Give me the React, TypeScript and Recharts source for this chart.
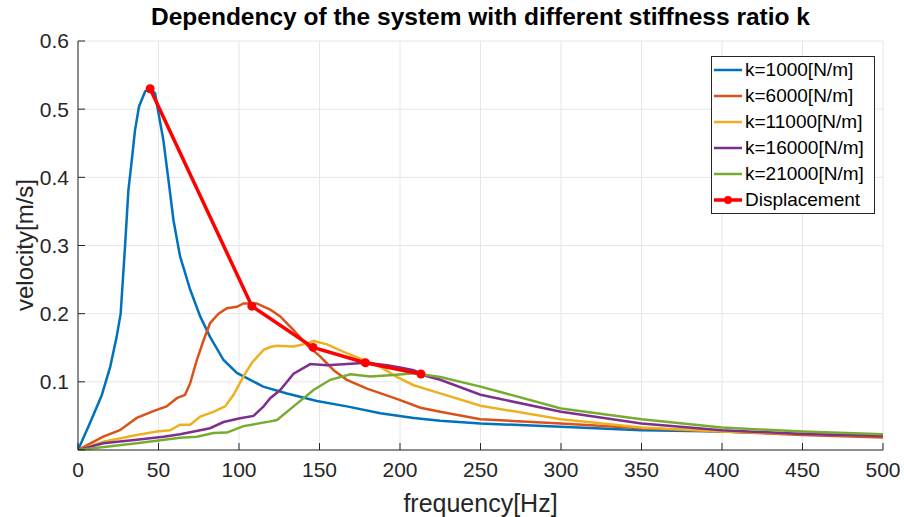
import { LineChart, Line, XAxis, YAxis, CartesianGrid } from "recharts"

// values (frequency in Hz, velocity in m/s)
const k1000 = [
  [0, 0], [7.5, 0.04], [14.7, 0.08], [20, 0.122], [24, 0.166], [26.5, 0.2], [29.2, 0.298],
  [31.3, 0.381], [33.4, 0.425], [35.4, 0.469], [37.9, 0.504], [41.7, 0.526], [44.8, 0.53],
  [47.9, 0.523], [50, 0.494], [53, 0.455], [56.2, 0.396], [59.3, 0.337], [63.4, 0.284],
  [69.7, 0.235], [75.9, 0.196], [82, 0.166], [90.4, 0.132], [98.7, 0.113], [107, 0.103],
  [115, 0.093], [129.8, 0.083], [148.4, 0.072], [167, 0.064], [187.8, 0.054], [208.5, 0.047],
  [225, 0.043], [250, 0.039], [300, 0.034], [350, 0.029], [400, 0.027], [450, 0.0235], [500, 0.0205],
]
const k6000 = [
  [0, 0], [15.7, 0.0195], [26, 0.029], [36.5, 0.047], [46.8, 0.057], [55, 0.064], [61.4, 0.076],
  [66.5, 0.081], [69.7, 0.098], [73.8, 0.132], [78, 0.161], [82, 0.186], [87.3, 0.2], [92.5, 0.208],
  [98.7, 0.21], [102.8, 0.215], [111, 0.215], [119.4, 0.206], [125.6, 0.196], [133.9, 0.176],
  [142.2, 0.154], [150.5, 0.137], [158.8, 0.117], [167, 0.103], [179.5, 0.09], [198, 0.075],
  [212.7, 0.062], [225, 0.056], [250, 0.045], [300, 0.039], [350, 0.032], [400, 0.027],
  [450, 0.022], [500, 0.0185],
]
const k11000 = [
  [0, 0], [15.7, 0.012], [36.5, 0.022], [49, 0.027], [57.2, 0.029], [63.4, 0.037], [69.7, 0.037],
  [75.9, 0.049], [84.1, 0.056], [91.4, 0.064], [96.6, 0.081], [102.8, 0.108], [108, 0.128],
  [115.3, 0.147], [119.4, 0.151], [123.6, 0.153], [133.9, 0.152], [142.2, 0.156], [146.3, 0.16],
  [154.7, 0.155], [165, 0.144], [175.4, 0.134], [187.8, 0.122], [198.2, 0.107], [208.5, 0.095],
  [225, 0.083], [250, 0.065], [300, 0.045], [350, 0.033], [400, 0.027], [450, 0.0235], [500, 0.0205],
]
const k16000 = [
  [0, 0], [15.7, 0.01], [36.5, 0.015], [53, 0.0195], [63.4, 0.023], [75.9, 0.029], [82, 0.032],
  [90.4, 0.041], [100.7, 0.0465], [109, 0.05], [115.3, 0.064], [119.4, 0.076], [125.6, 0.088],
  [133.9, 0.112], [144.3, 0.126], [154.7, 0.1245], [167, 0.126], [179.5, 0.128], [192, 0.1245],
  [200, 0.121], [208.5, 0.117], [216.8, 0.108], [225, 0.103], [250, 0.081], [300, 0.056],
  [350, 0.039], [400, 0.029], [450, 0.0235], [500, 0.0205],
]
const k21000 = [
  [0, 0], [36.5, 0.01], [63.4, 0.018], [73.8, 0.0195], [84.1, 0.025], [92.5, 0.0255], [102.8, 0.035],
  [119.4, 0.042], [123.6, 0.044], [133.9, 0.064], [146.3, 0.088], [156.7, 0.103], [169.2, 0.111],
  [181.6, 0.108], [196, 0.11], [208.5, 0.1125], [225, 0.107], [250, 0.093], [300, 0.061],
  [350, 0.045], [400, 0.033], [450, 0.027], [500, 0.023],
]
const displacement = [
  [44.8, 0.53], [108, 0.211], [146, 0.1505], [178.5, 0.128], [213, 0.1115],
]

const xTicks = [0, 50, 100, 150, 200, 250, 300, 350, 400, 450, 500]
const yTicks = [0, 0.1, 0.2, 0.3, 0.4, 0.5, 0.6]

const series = [
  { name: "k=1000[N/m]", color: "#0072BD", data: k1000 },
  { name: "k=6000[N/m]", color: "#D95319", data: k6000 },
  { name: "k=11000[N/m]", color: "#EDB120", data: k11000 },
  { name: "k=16000[N/m]", color: "#7E2F8E", data: k16000 },
  { name: "k=21000[N/m]", color: "#77AC30", data: k21000 },
]

const toPoints = (arr: number[][]) => arr.map(([f, v]) => ({ f, v }))

const FONT = "'Liberation Sans', Arial, sans-serif"
const AXIS = "#262626"

function LegendBox() {
  const rows = [...series.map((s) => ({ name: s.name, color: s.color, dot: false })),
    { name: "Displacement", color: "#FF0000", dot: true }]
  return (
    <div style={{ position: "absolute", left: 711, top: 56, width: 162, border: "1px solid #262626",
      background: "#fff", fontFamily: FONT, fontSize: 19, color: "#000" }}>
      {rows.map((r) => (
        <div key={r.name} style={{ height: 26, display: "flex", alignItems: "center" }}>
          <svg width={33} height={26} style={{ flex: "none" }}>
            <line x1={2} y1={13} x2={30} y2={13} stroke={r.color} strokeWidth={r.dot ? 3.5 : 2.5} />
            {r.dot && <circle cx={16} cy={13} r={4} fill={r.color} />}
          </svg>
          <span style={{ whiteSpace: "nowrap" }}>{r.name}</span>
        </div>
      ))}
    </div>
  )
}

function YLabel() {
  return (
    <text x={27} y={245} transform="rotate(-90 27 245)" textAnchor="middle" dominantBaseline="middle"
      fontFamily={FONT} fontSize={24} fill={AXIS}>
      velocity[m/s]
    </text>
  )
}

export default function App() {
  return (
    <div style={{ position: "absolute", left: 0, top: 0, width: 904, height: 517, background: "#fff" }}>
      <LineChart width={904} height={517} margin={{ top: 41, right: 21, bottom: 0, left: 0 }}>
        <CartesianGrid stroke="#e6e6e6" strokeWidth={1} />
        <XAxis dataKey="f" type="number" domain={[0, 500]} ticks={xTicks} height={67}
          allowDataOverflow interval={0}
          stroke={AXIS} tickSize={-7} tickMargin={19}
          tick={{ fontFamily: FONT, fontSize: 21, fill: AXIS }}
          label={{ value: "frequency[Hz]", position: "insideBottom", offset: 5, fontFamily: FONT, fontSize: 25, fill: AXIS }} />
        <XAxis xAxisId="top" orientation="top" type="number" domain={[0, 500]} ticks={xTicks}
          height={0} stroke={AXIS} tickSize={-7} tick={false} />
        <YAxis dataKey="v" type="number" domain={[0, 0.6]} ticks={yTicks} width={78}
          allowDataOverflow interval={0}
          stroke={AXIS} tickSize={-7} tickMargin={16}
          tickFormatter={(v: number) => (v === 0 ? "" : String(v))}
          tick={{ fontFamily: FONT, fontSize: 21, fill: AXIS }}
          label={<YLabel />} />
        <YAxis yAxisId="right" orientation="right" type="number" domain={[0, 0.6]} ticks={yTicks}
          width={0} stroke={AXIS} tickSize={-7} tick={false} />
        {series.map((s) => (
          <Line key={s.name} data={toPoints(s.data)} dataKey="v" name={s.name} type="linear"
            stroke={s.color} strokeWidth={2.5} dot={false} isAnimationActive={false} />
        ))}
        <Line data={toPoints(displacement)} dataKey="v" name="Displacement" type="linear"
          stroke="#FF0000" strokeWidth={3.5} dot={{ r: 4.5, fill: "#FF0000", stroke: "#FF0000", strokeWidth: 0 }}
          isAnimationActive={false} />
      </LineChart>
      <div style={{ position: "absolute", left: 78, width: 805, top: 3, textAlign: "center",
        fontFamily: FONT, fontWeight: "bold", fontSize: 24.5, color: "#000" }}>
        Dependency of the system with different stiffness ratio k
      </div>
      <LegendBox />
    </div>
  )
}
